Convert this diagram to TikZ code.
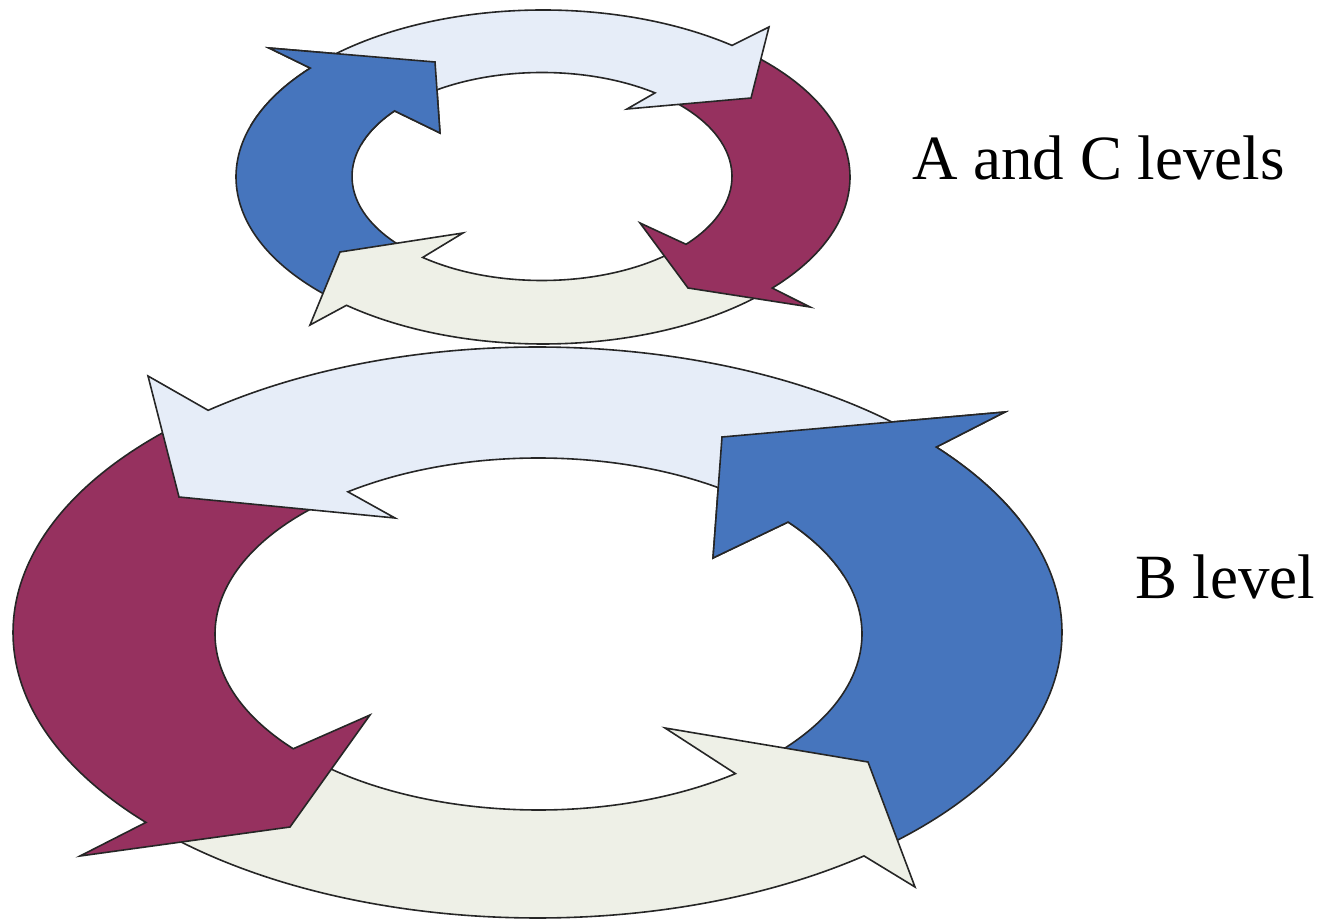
\documentclass[tikz,border=0pt]{standalone}
\usepackage{fontspec}
\setmainfont{Liberation Serif}
\usepackage{tikz}

\definecolor{cycblue}{RGB}{70,117,189}
\definecolor{cycmaroon}{RGB}{150,49,95}
\definecolor{cycsky}{RGB}{230,237,248}
\definecolor{cycpale}{RGB}{238,240,231}

% one curved arrow on the current ring:
% #1 tail angle, #2 outer back angle, #3 inner back angle, #4 outer barb, #5 tip, #6 inner barb
\newcommand{\ringarrow}[6]{%
  ({\cxo+\rxo*cos(#1)},{\cyo+\ryo*sin(#1)})
  arc[start angle=#1, end angle=#2, x radius=\rxo, y radius=\ryo]
  -- #4 -- #5 -- #6
  -- ({\cxi+\rxi*cos(#3)},{\cyi+\ryi*sin(#3)})
  arc[start angle=#3, end angle=#1, x radius=\rxi, y radius=\ryi] -- cycle}

\begin{document}
\begin{tikzpicture}[
    x=1pt, y=1pt,
    cyc/.style={draw=black!85, line width=1.6pt},
    levellabel/.style={font=\fontsize{63}{70}\selectfont, inner sep=0pt, anchor=base west}
]
\useasboundingbox (0,0) rectangle (1321,922);

% Upper ring (clockwise)
\def\cxo{543}\def\cyo{745}\def\rxo{307}\def\ryo{167}
\def\cxi{542}\def\cyi{745.5}\def\rxi{190}\def\ryi{104}
\filldraw[cyc, fill=cycblue]   \ringarrow{227}{139.3}{140.9}{(269,874)}{(435,860)}{(440,789)};
\filldraw[cyc, fill=cycpale]   \ringarrow{-44}{-129.8}{-128.9}{(310,597)}{(340,670)}{(463,689)};
\filldraw[cyc, fill=cycmaroon] \ringarrow{48}{-41.7}{-40.7}{(810,615)}{(688,634)}{(640,699)};
\filldraw[cyc, fill=cycsky]    \ringarrow{135}{52}{53.5}{(769,895)}{(751,824)}{(627,813)};
\begin{scope}
  \clip (250,777) rectangle (455,892);
  \filldraw[cyc, fill=cycblue] \ringarrow{227}{139.3}{140.9}{(269,874)}{(435,860)}{(440,789)};
\end{scope}

% Lower ring (counter-clockwise)
\def\cxo{537.5}\def\cyo{289.5}\def\rxo{524.5}\def\ryo{285.5}
\def\cxi{538.5}\def\cyi{288}\def\rxi{323.5}\def\ryi{176}
\filldraw[cyc, fill=cycblue]   \ringarrow{311}{400.5}{399.5}{(1005,510)}{(722,485)}{(713,364)};
\filldraw[cyc, fill=cycpale]   \ringarrow{224}{308.5}{307.5}{(915,35)}{(868,160)}{(665,194)};
\filldraw[cyc, fill=cycmaroon] \ringarrow{132}{221.7}{220.7}{(80,66)}{(290,95)}{(370,207)};
\filldraw[cyc, fill=cycsky]    \ringarrow{44}{128.9}{126.1}{(148,546)}{(179,425)}{(395,404)};
\begin{scope}
  \clip (700,347) rectangle (1020,522);
  \filldraw[cyc, fill=cycblue] \ringarrow{311}{400.5}{399.5}{(1005,510)}{(722,485)}{(713,364)};
\end{scope}

% Labels
\node[levellabel] (lblAC) at (912,742) {A and C levels};
\node[levellabel] (lblB) at (1135,324) {B level};
\end{tikzpicture}
\end{document}
